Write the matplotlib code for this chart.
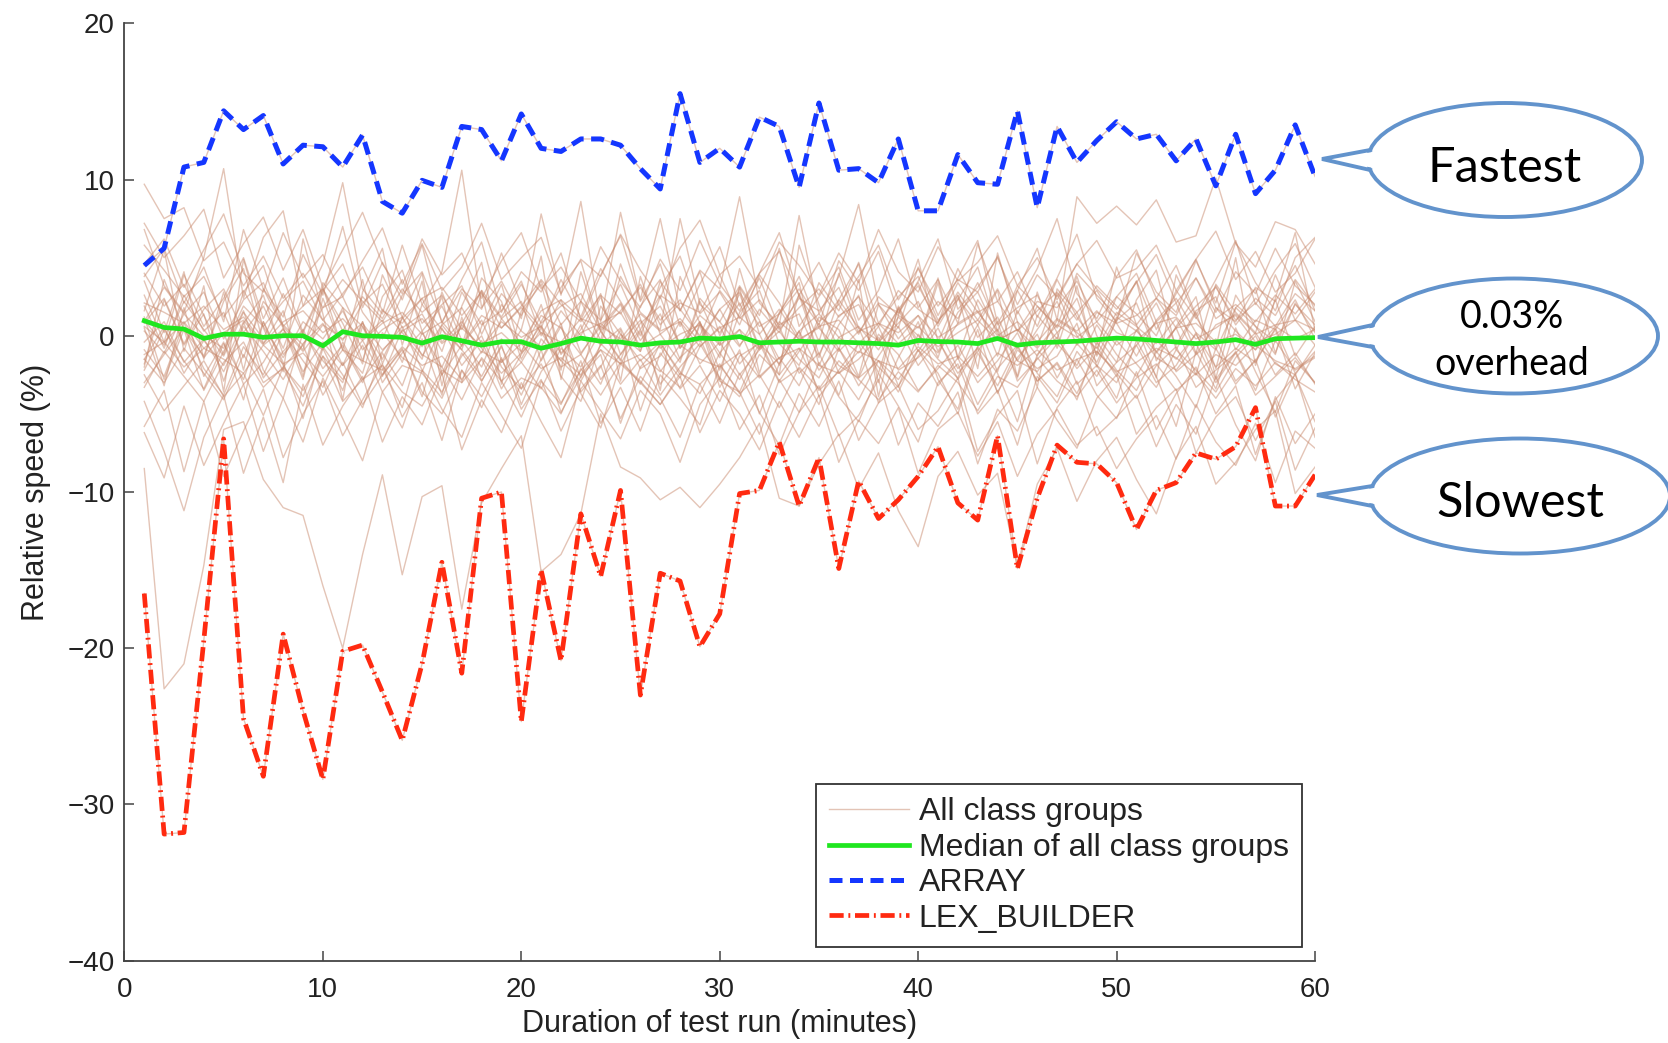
"""
Relative speed of class groups over a 60 minute test run, with callouts.
"""
import matplotlib
matplotlib.use('Agg')
import matplotlib.pyplot as plt
from matplotlib.patches import Ellipse, Polygon
from matplotlib.lines import Line2D

minutes = list(range(1, 61))

# Median of all class groups (green)
median_all = [
    0.96, 0.53, 0.43, -0.17, 0.1, 0.1, -0.1, 0.0, 0.0, -0.64,
    0.26, 0.0, -0.04, -0.1, -0.47, -0.06, -0.32, -0.6, -0.38, -0.38,
    -0.8, -0.5, -0.15, -0.35, -0.4, -0.6, -0.45, -0.4, -0.15, -0.2,
    -0.05, -0.45, -0.4, -0.35, -0.4, -0.4, -0.45, -0.5, -0.6, -0.3,
    -0.37, -0.4, -0.5, -0.17, -0.6, -0.45, -0.4, -0.35, -0.25, -0.15,
    -0.2, -0.3, -0.4, -0.5, -0.4, -0.25, -0.55, -0.19, -0.15, -0.12]

# ARRAY (fastest)
array_speed = [
    4.5, 5.6, 10.8, 11.1, 14.4, 13.2, 14.1, 11.0, 12.2, 12.1,
    10.8, 12.85, 8.6, 7.85, 9.95, 9.5, 13.4, 13.2, 11.2, 14.2,
    12.0, 11.8, 12.6, 12.6, 12.2, 10.7, 9.4, 15.5, 11.1, 12.0,
    10.8, 14.0, 13.4, 9.5, 14.9, 10.6, 10.7, 9.8, 12.6, 8.0,
    8.0, 11.6, 9.8, 9.7, 14.4, 8.2, 13.4, 11.1, 12.5, 13.7,
    12.6, 12.9, 11.2, 12.6, 9.6, 12.9, 9.1, 10.6, 13.5, 10.2]

# LEX_BUILDER (slowest)
lex_builder_speed = [
    -16.5, -31.9, -31.8, -19.5, -6.6, -24.5, -28.2, -19.1, -24.0, -28.4,
    -20.2, -19.8, -22.8, -25.9, -21.0, -14.5, -21.6, -10.4, -10.0, -24.7,
    -15.0, -20.8, -11.4, -15.4, -9.9, -23.0, -15.2, -15.7, -19.9, -17.8,
    -10.1, -9.9, -6.8, -10.9, -7.8, -14.9, -9.3, -11.7, -10.5, -9.0,
    -7.1, -10.7, -11.8, -6.4, -14.9, -10.4, -7.0, -8.1, -8.2, -9.4,
    -12.4, -9.9, -9.4, -7.5, -7.9, -7.1, -4.6, -10.9, -10.9, -8.9]

# Individual class groups (tan)
group_01 = [
    2.1, 1.5, 0.8, 1.9, 0.4, 1.2, -0.5, 0.9, 1.6, 0.2,
    1.1, -0.3, 0.8, 1.5, 0.1, 0.9, -0.6, 1.3, 0.5, 1.8,
    0.2, -0.4, 1.1, 0.6, -0.2, 1.4, 0.3, 0.9, -0.7, 0.5,
    1.2, 0.1, 1.7, -0.3, 0.6, 1.0, -0.5, 0.8, 0.2, 1.3,
    -0.1, 0.7, 1.5, 0.0, 0.9, -0.4, 1.1, 0.3, 1.6, 0.2,
    -0.3, 0.8, 1.2, -0.2, 0.5, 1.4, 0.1, 0.7, 1.0, 0.4]
group_02 = [
    -1.2, -0.4, -2.0, -0.8, -1.5, -2.4, -0.6, -1.8, -1.1, -2.6,
    -0.9, -1.6, -2.2, -0.7, -1.9, -1.3, -2.8, -1.0, -1.7, -0.5,
    -2.1, -1.4, -2.5, -0.9, -1.8, -1.2, -2.3, -0.6, -1.5, -2.0,
    -1.1, -2.7, -1.4, -0.8, -1.9, -2.4, -1.0, -1.6, -2.1, -0.7,
    -1.8, -1.3, -2.6, -1.1, -1.9, -0.9, -2.2, -1.5, -1.0, -2.3,
    -1.7, -0.8, -1.4, -2.5, -1.2, -1.9, -0.6, -1.6, -2.1, -1.3]
group_03 = [
    3.5, 0.2, 4.1, -1.5, 2.8, -2.2, 3.0, 0.5, -2.8, 2.4,
    -0.9, 3.6, -1.8, 1.2, 4.0, -2.5, 0.8, 2.9, -3.1, 1.6,
    3.3, -1.2, 0.4, 2.7, -2.9, 3.8, 0.1, -1.7, 2.2, -0.6,
    3.1, -2.4, 1.5, 3.4, -1.9, 0.7, 2.6, -3.0, 1.9, -0.4,
    3.7, -1.4, 2.3, 0.3, -2.6, 2.8, -0.8, 3.2, -2.0, 1.1,
    3.5, -1.6, 0.6, 2.5, -2.7, 1.8, 3.0, -1.1, 2.1, 0.2]
group_04 = [
    5.8, 4.2, 2.5, 3.8, 1.2, 2.9, 0.6, 2.2, 3.5, 1.0,
    2.7, 4.4, 1.6, 0.8, 2.4, 3.1, 1.3, 2.8, 0.5, 1.9,
    3.6, 2.0, 0.9, 2.6, 1.4, 3.3, 0.7, 2.1, 1.5, 3.9,
    1.1, 2.3, 0.4, 1.8, 3.0, 1.2, 2.5, 0.6, 2.9, 1.7,
    0.8, 3.4, 1.5, 2.2, 0.3, 1.6, 2.8, 1.0, 3.2, 1.9,
    0.7, 2.4, 1.3, 3.7, 1.1, 2.0, 0.9, 2.6, 1.4, 3.0]
group_05 = [
    -2.5, -4.8, -3.2, -1.6, -3.9, -2.4, -5.1, -2.0, -3.5, -1.3,
    -4.2, -2.8, -1.9, -3.6, -4.5, -2.2, -3.0, -1.5, -4.0, -2.7,
    -3.3, -5.0, -2.1, -3.8, -1.7, -2.9, -4.4, -2.4, -3.1, -1.8,
    -3.7, -2.5, -4.6, -2.0, -3.4, -1.6, -2.8, -4.1, -2.3, -3.6,
    -1.9, -3.0, -4.8, -2.6, -3.3, -1.4, -2.9, -3.9, -2.2, -4.3,
    -2.7, -1.8, -3.5, -2.4, -4.0, -2.1, -3.2, -1.7, -2.8, -3.6]
group_06 = [
    9.7, 7.5, 8.2, 4.8, 6.0, 3.2, 5.1, 2.4, 4.0, 1.8,
    3.6, 2.2, 0.9, 3.0, 1.5, 2.6, 0.4, 2.9, 1.2, 3.3,
    0.8, 1.9, 2.7, 0.3, 1.6, 3.1, 1.0, 2.3, -0.2, 1.7,
    2.8, 0.6, 1.4, 3.0, 0.9, 2.0, 0.1, 2.5, 1.3, 0.5,
    2.2, 1.1, 3.4, 0.7, 1.8, 2.6, 0.2, 1.5, 2.9, 0.8,
    1.3, 2.4, 0.5, 1.9, 3.1, 1.0, 2.1, 0.6, 2.7, 1.6]
group_07 = [
    -8.5, -22.6, -21.0, -14.7, -6.0, -5.5, -9.2, -11.0, -11.5, -16.0,
    -20.0, -14.0, -8.9, -15.3, -10.3, -9.6, -17.5, -10.7, -8.5, -6.4,
    -15.1, -14.0, -11.4, -5.0, -8.4, -9.1, -10.5, -9.7, -11.0, -9.5,
    -7.8, -5.6, -10.4, -10.9, -8.2, -6.3, -9.8, -7.5, -11.2, -13.5,
    -9.0, -7.4, -10.2, -8.8, -14.8, -9.5, -7.2, -10.6, -8.0, -6.5,
    -9.2, -11.4, -7.8, -5.8, -9.5, -8.1, -6.0, -4.8, -10.1, -8.4]
group_08 = [
    -4.2, -7.4, -11.2, -6.5, -3.8, -8.8, -5.2, -9.4, -3.1, -7.0,
    -4.5, -2.6, -6.8, -3.9, -5.7, -2.4, -7.3, -4.1, -6.2, -3.0,
    -5.5, -7.8, -2.9, -4.8, -6.6, -3.5, -5.0, -8.1, -4.4, -2.7,
    -6.0, -3.8, -7.6, -4.9, -3.2, -6.4, -5.1, -2.8, -7.0, -4.3,
    -5.8, -3.6, -8.2, -4.7, -6.1, -3.3, -5.4, -7.2, -4.0, -2.5,
    -6.3, -4.6, -3.4, -7.5, -5.2, -3.9, -6.7, -4.2, -8.6, -5.9]
group_09 = [
    6.8, 3.2, 1.5, 5.0, 10.7, 2.4, 6.3, 8.0, 1.9, 4.6,
    9.8, 3.0, 1.4, 5.8, 2.0, 4.1, 10.6, 1.8, 3.5, 1.1,
    7.8, 2.6, 8.6, 0.9, 7.9, 2.3, 7.5, 1.6, 4.2, 3.0,
    8.9, 2.1, 0.7, 7.7, 1.4, 3.8, 8.4, 2.0, 0.5, 4.4,
    1.3, 3.7, 6.1, 0.8, 2.9, 5.6, 1.0, 8.9, 7.2, 8.3,
    7.1, 8.7, 6.0, 6.4, 10.1, 5.9, 4.4, 7.3, 6.8, 4.6]
group_10 = [
    0.5, -3.2, 1.8, -2.6, -0.4, -4.1, 0.9, -1.7, -5.3, -0.8,
    -3.5, 0.6, -2.1, -4.6, -0.2, -3.8, 1.2, -2.9, -0.6, -4.4,
    -1.5, 0.8, -3.6, -2.0, 0.4, -4.8, -1.1, -2.7, 0.7, -3.3,
    -0.9, -5.0, -1.8, 0.3, -3.9, -2.2, -0.5, -4.3, -1.4, 0.9,
    -2.8, -4.7, -0.7, -2.4, -5.5, -1.2, 0.2, -3.1, -1.9, -4.0,
    -0.3, -2.6, -5.8, -1.0, -3.4, 0.5, -2.3, -4.9, -1.6, -3.0]
group_11 = [
    4.6, 6.2, 3.1, 5.5, 7.8, 4.0, 2.8, 6.6, 3.7, 5.2,
    2.5, 4.8, 6.9, 3.3, 5.9, 2.9, 4.4, 7.2, 3.6, 5.0,
    6.3, 2.7, 4.9, 3.8, 6.5, 4.2, 2.4, 5.6, 7.4, 3.9,
    5.1, 3.0, 6.0, 4.5, 2.6, 5.3, 3.4, 6.8, 4.1, 2.8,
    5.7, 3.5, 4.7, 6.4, 3.2, 5.0, 2.3, 4.6, 6.1, 3.7,
    4.3, 5.8, 2.9, 4.9, 6.7, 3.6, 5.4, 2.8, 4.0, 6.2]
group_12 = [
    -1.8, 2.3, -0.6, 1.4, -2.9, 0.8, 2.6, -1.2, 0.3, 3.1,
    -0.9, -2.4, 1.7, 0.2, -1.5, 2.8, -0.3, -2.0, 1.1, 2.2,
    -1.6, 0.6, -2.7, 1.9, 0.1, -1.0, 2.5, -0.8, 0.9, -2.2,
    1.5, 2.9, -0.5, -1.9, 1.2, 0.4, -2.6, 2.0, -0.2, 1.3,
    -1.4, 2.4, 0.7, -2.3, 1.6, -0.7, 2.7, 0.0, -1.7, 1.0,
    2.1, -1.1, 0.5, -2.5, 1.8, 0.3, -0.9, 2.3, -1.3, 0.6]
group_13 = [
    1.2, -2.8, 0.4, -3.5, -1.0, 1.6, -2.2, -4.0, 0.2, -1.6,
    -3.0, 0.9, -2.5, -0.8, -3.9, 0.5, -1.9, -0.3, -3.4, -1.2,
    0.7, -2.6, -4.2, -0.5, -1.8, 0.3, -3.1, -1.4, -0.2, -2.9,
    -3.6, -0.7, 0.6, -2.4, -1.1, -3.8, -0.4, -2.0, -3.3, 0.1,
    -1.5, -2.7, 0.4, -3.7, -0.9, -2.1, -1.3, 0.8, -3.2, -1.7,
    -0.6, -3.0, -1.9, 0.2, -2.8, -1.0, -3.5, -0.3, -2.2, -1.4]
group_14 = [
    -5.8, -3.5, -8.7, -4.2, -9.0, -6.1, -3.4, -7.8, -5.0, -2.9,
    -6.4, -4.1, -1.8, -5.2, -3.0, -6.7, -2.2, -4.6, -1.5, -3.8,
    -0.9, -4.9, -2.6, -1.2, -5.6, -2.0, -0.6, -3.4, -1.9, -4.2,
    -1.3, -0.5, -3.0, -2.1, -4.4, -0.8, -2.7, -1.6, -3.6, -0.9,
    -2.4, -5.0, -1.1, -3.2, -0.7, -2.9, -1.8, -4.1, -0.4, -2.2,
    -3.5, -1.0, -2.6, -4.6, -0.8, -3.1, -1.5, -5.2, -2.4, -6.5]
group_15 = [
    3.8, 5.6, 2.1, 4.4, 0.9, 6.8, 3.0, 1.2, 5.2, 2.6,
    7.0, 1.8, 4.7, 2.3, 5.8, 0.8, 3.6, 6.0, 1.5, 4.1,
    2.8, 5.3, 1.0, 3.9, 6.4, 2.2, 4.6, 0.6, 3.3, 5.7,
    1.9, 4.0, 6.6, 2.5, 0.7, 4.8, 2.9, 5.4, 1.4, 3.5,
    6.2, 1.7, 3.1, 5.0, 2.0, 4.3, 7.5, 2.7, 1.1, 3.8,
    5.5, 2.4, 4.5, 1.3, 3.6, 6.1, 2.0, 4.2, 5.9, 3.1]
group_16 = [
    0.3, -1.1, 1.4, 0.0, -0.8, 1.9, 0.6, -1.4, 0.9, -0.2,
    1.6, -0.9, 0.4, 1.2, -1.3, 0.7, 1.8, -0.5, 0.2, -1.0,
    1.3, 0.5, -1.2, 0.8, 1.5, -0.7, 0.1, 1.1, -0.4, 1.7,
    -0.6, 0.9, -1.5, 0.3, 1.4, -0.1, 0.6, -0.9, 1.2, 0.0,
    -1.1, 0.8, 1.6, -0.3, 0.4, -1.3, 1.0, 0.2, -0.8, 1.5,
    0.6, -0.5, 1.1, -1.2, 0.7, 1.3, -0.4, 0.1, 1.0, -0.6]
group_17 = [
    -2.2, 0.4, -1.6, -3.4, -0.5, -2.8, 0.9, -1.9, -3.9, -0.7,
    -2.5, -4.6, -1.1, -3.2, 0.2, -2.0, -4.1, -1.4, -2.9, -5.2,
    -2.3, -0.6, -3.7, -5.9, -1.8, -3.0, -4.4, -2.6, -6.2, -3.5,
    -5.0, -7.3, -4.2, -6.5, -3.8, -8.1, -5.4, -6.9, -4.6, -8.8,
    -6.0, -4.9, -7.7, -5.5, -9.0, -6.3, -4.7, -7.0, -5.8, -8.5,
    -6.6, -5.1, -7.9, -4.4, -6.8, -8.3, -5.6, -9.4, -6.1, -7.2]
group_18 = [
    1.6, 5.5, -1.0, 3.2, -3.6, 4.9, 0.5, -2.3, 6.2, 1.4,
    -4.1, 2.8, 5.6, -0.6, 3.5, -3.2, 1.9, 4.7, -1.7, 0.4,
    5.1, -2.8, 2.2, -0.3, 4.6, 1.1, -3.5, 3.8, 0.8, -1.4,
    4.3, 0.1, -2.5, 5.8, 2.0, -0.9, 3.6, -3.9, 1.3, 4.9,
    -0.4, 2.6, -2.1, 5.3, 0.9, -3.3, 3.0, 1.5, -1.2, 4.4,
    0.7, -2.7, 3.9, 1.2, -0.8, 5.0, -1.9, 2.4, 6.6, 0.3]
group_19 = [
    -6.2, -9.1, -4.5, -8.3, -5.6, -3.1, -7.4, -4.0, -6.8, -2.7,
    -5.3, -8.0, -3.6, -5.9, -2.2, -4.7, -6.5, -3.0, -5.1, -7.2,
    -2.9, -4.4, -1.6, -5.6, -3.3, -6.1, -2.5, -4.0, -5.7, -1.9,
    -3.6, -6.3, -2.8, -4.9, -1.7, -3.9, -5.5, -2.4, -4.5, -6.8,
    -3.0, -1.8, -5.0, -3.5, -7.0, -2.6, -4.3, -1.5, -3.8, -5.3,
    -2.3, -6.0, -3.7, -2.0, -5.0, -3.2, -7.6, -4.1, -2.5, -5.5]
group_20 = [
    2.6, -0.4, 3.9, 1.3, -1.2, 2.8, 4.5, 0.6, -0.9, 3.4,
    1.8, -1.6, 2.5, 4.2, 0.3, 1.9, -0.7, 3.7, 2.2, -1.5,
    0.9, 3.1, 4.8, 0.4, 2.0, -1.0, 3.5, 1.6, 4.1, 0.0,
    2.7, -0.8, 1.4, 3.8, 0.5, 2.3, 4.6, -0.5, 1.7, 3.2,
    0.8, 4.3, 1.9, -1.3, 2.9, 0.6, 3.6, 1.2, -0.6, 2.5,
    4.0, 0.9, 2.1, -1.1, 3.3, 1.5, 0.2, 3.9, 1.0, 2.8]
group_21 = [
    7.2, 5.0, 6.4, 8.1, 3.7, 5.9, 7.6, 4.2, 6.8, 3.1,
    5.5, 7.9, 4.6, 2.7, 6.2, 3.9, 5.3, 2.4, 4.8, 6.6,
    3.0, 4.4, 2.2, 5.7, 3.5, 1.8, 4.9, 2.9, 6.1, 3.3,
    1.6, 4.0, 5.4, 2.6, 4.7, 2.0, 3.8, 5.8, 2.3, 4.3,
    1.9, 3.6, 2.8, 5.1, 1.4, 3.9, 2.5, 4.6, 3.0, 1.7,
    3.4, 5.2, 2.1, 3.7, 1.5, 4.1, 2.7, 5.6, 3.2, 2.0]
group_22 = [
    -0.4, 0.9, -1.7, -0.2, -2.3, 0.6, -1.0, -2.8, -0.5, 0.8,
    -1.9, -0.3, -2.6, 0.4, -1.2, -2.0, 0.7, -0.8, -2.4, -1.1,
    0.2, -1.6, -2.9, -0.6, 0.5, -2.1, -1.3, 0.9, -1.8, -0.4,
    -2.5, -0.9, 0.3, -1.5, -2.7, -0.1, -1.1, 0.6, -2.2, -1.4,
    -0.2, -2.8, -0.7, 0.4, -1.6, -2.3, -0.5, -1.9, 0.7, -1.2,
    -2.6, -0.3, -1.5, 0.1, -2.0, -0.8, -1.7, 0.5, -2.4, -1.0]
group_23 = [
    0.8, 2.4, -0.5, 1.7, 3.0, 0.2, 1.9, -0.8, 2.6, 1.0,
    -0.3, 2.1, 3.3, 0.5, 1.4, -1.0, 2.8, 0.7, 1.6, 3.5,
    0.0, 2.3, 1.1, -0.6, 3.8, 1.5, 0.4, 7.5, 2.0, 0.9,
    3.2, 1.3, 5.6, 0.6, 2.5, 4.4, 1.0, 2.9, 6.2, 1.8,
    3.6, 0.8, 5.9, 2.2, 4.1, 1.2, 3.7, 6.5, 2.4, 0.9,
    5.3, 2.8, 1.5, 4.8, 2.1, 6.0, 3.4, 1.6, 5.0, 6.3]
group_24 = [
    -1.5, -3.0, -0.8, -2.4, -4.1, -1.2, -3.3, -2.0, -0.6, -3.8,
    -1.7, -4.4, -2.5, -0.9, -3.6, -5.0, -2.2, -3.9, -1.4, -4.7,
    -2.8, -6.1, -3.4, -1.9, -5.3, -2.6, -4.0, -6.5, -3.1, -5.6,
    -2.4, -4.9, -7.0, -3.7, -5.8, -2.9, -6.7, -4.3, -3.2, -6.0,
    -4.8, -2.7, -7.4, -5.1, -3.5, -8.2, -4.6, -2.9, -6.4, -5.2,
    -3.8, -7.1, -4.4, -6.3, -2.6, -5.7, -8.0, -3.9, -6.9, -5.0]
group_25 = [
    1.0, -0.6, 2.2, 0.4, -1.3, 1.5, -0.2, 2.7, 0.1, -0.9,
    1.8, 0.6, -1.5, 1.1, 2.4, -0.4, 0.9, -1.1, 2.0, 0.3,
    -0.7, 1.6, 0.0, 2.5, -1.2, 0.8, 1.9, -0.5, 1.3, 0.2,
    2.1, -0.8, 0.7, 1.4, -1.4, 2.3, 0.5, -0.3, 1.7, -1.0,
    0.9, 2.6, -0.1, 1.2, -1.6, 0.4, 2.2, -0.6, 1.5, 0.8,
    -1.3, 1.0, 2.4, 0.2, -0.9, 1.8, 0.6, -0.4, 2.0, 0.7]
group_26 = [
    -3.0, -1.2, 0.5, -2.1, -3.8, -0.7, -2.5, 0.2, -1.6, -3.3,
    -0.4, -2.8, -1.0, 0.6, -2.2, -3.6, -1.3, 0.0, -2.9, -1.7,
    -3.4, -0.8, -2.0, 0.3, -1.5, -3.1, -0.5, -2.3, -3.7, -1.1,
    0.4, -2.6, -1.4, -3.2, -0.2, -1.9, -2.7, 0.1, -1.2, -3.5,
    -2.1, -0.6, -3.0, -1.6, 0.2, -2.4, -3.9, -1.0, -2.6, -0.3,
    -1.8, -3.3, -0.9, -2.2, -3.6, -1.4, 0.0, -2.5, -1.1, -3.1]
group_27 = [
    4.0, 1.9, 3.3, 0.6, 2.4, 5.0, 1.1, 3.7, 0.2, 2.9,
    4.6, 1.5, -0.2, 2.6, 4.1, 0.9, 3.0, 1.7, 5.3, 2.0,
    0.5, 3.6, 1.2, 4.3, 2.2, 0.0, 3.1, 5.1, 1.4, 2.8,
    0.7, 3.9, 2.1, -0.1, 3.4, 1.6, 4.7, 0.8, 2.5, 3.8,
    1.0, 2.3, 4.4, 0.3, 3.2, 1.9, 0.6, 4.0, 2.6, 1.3,
    3.5, 0.4, 2.7, 4.9, 1.8, 0.9, 3.1, 2.2, 4.5, 1.6]
group_28 = [
    -0.9, -2.6, 0.8, -1.4, 0.2, -3.1, -1.7, 0.5, -2.3, -0.4,
    -1.9, 0.9, -3.0, -1.1, 0.3, -2.5, -0.6, 1.0, -2.0, -3.4,
    -0.2, -1.6, 0.7, -2.8, -1.2, 0.4, -2.2, -3.3, -0.7, 0.6,
    -1.8, -0.3, -2.9, -1.0, 0.8, -2.4, -1.5, -0.1, -3.2, -1.3,
    0.5, -2.1, -0.8, -3.6, -1.4, 0.1, -2.7, -0.5, -1.9, -3.0,
    -0.6, 0.9, -2.3, -1.2, -0.2, -2.9, -1.6, 0.4, -3.4, -1.1]
group_29 = [
    1.9, -0.8, 2.6, 0.3, 1.5, -1.4, 2.2, 0.7, -0.6, 1.8,
    2.5, -0.2, 1.0, -1.7, 2.0, 0.4, -0.9, 2.7, 1.1, -0.5,
    1.6, 2.3, -1.1, 0.6, 2.1, -0.3, 1.4, -1.5, 2.4, 0.9,
    -0.7, 1.7, 0.2, 2.6, -1.2, 1.3, 2.0, -0.4, 0.8, 2.2,
    -1.0, 1.5, 2.8, 0.1, -0.8, 1.9, 0.5, 2.4, -1.3, 1.2,
    0.3, 2.1, -0.6, 1.6, 2.5, -0.9, 1.0, 0.4, 2.3, -0.2]
group_30 = [
    -1.5, 0.6, -2.4, -0.3, -1.9, 0.9, -2.7, -1.0, 0.4, -2.1,
    -0.6, -3.0, 0.2, -1.4, -2.3, 0.7, -0.9, -2.6, -0.2, -1.7,
    0.5, -2.0, -1.2, -3.1, 0.1, -1.6, -0.4, -2.5, 0.8, -1.1,
    -2.8, -0.5, -1.8, 0.3, -2.2, -0.8, -3.2, -1.3, 0.6, -1.9,
    -0.3, -2.4, -1.0, 0.9, -2.9, -1.5, -0.1, -2.1, -0.7, -2.6,
    0.4, -1.4, -2.2, -0.5, -3.0, -1.1, 0.2, -1.8, -2.5, -0.6]
group_31 = [
    0.9, 3.1, 1.4, 2.8, -0.2, 2.3, 3.4, 0.6, 1.9, 3.0,
    0.3, 2.5, 1.1, 3.6, 0.8, 2.0, 3.2, 0.1, 2.7, 1.3,
    3.5, 0.7, 2.2, 1.0, 3.3, 0.4, 2.6, 1.7, 0.0, 2.9,
    1.2, 3.7, 0.5, 2.4, 1.6, 3.1, 0.2, 2.1, 1.5, 3.4,
    0.6, 2.8, 1.0, 3.0, 0.3, 2.2, 1.8, 3.5, 0.9, 2.5,
    1.4, 0.0, 2.9, 1.1, 3.2, 0.7, 2.4, 1.3, 3.6, 1.9]
group_32 = [
    -3.3, -1.0, -2.6, -4.2, -1.7, -0.4, -3.0, -2.1, -4.5, -1.3,
    -2.8, -0.6, -3.6, -1.9, -2.4, -4.0, -1.1, -2.9, -0.7, -3.4,
    -1.8, -4.3, -2.2, -0.9, -3.1, -1.5, -3.8, -2.0, -0.5, -2.7,
    -3.9, -1.2, -2.5, -0.8, -3.5, -2.3, -4.1, -1.6, -2.8, -0.9,
    -3.2, -1.4, -4.4, -2.1, -0.6, -2.9, -1.7, -3.7, -1.0, -2.4,
    -4.0, -1.9, -0.7, -3.3, -2.2, -1.1, -3.8, -2.6, -1.4, -3.0]
group_33 = [
    0.6, -0.4, 0.9, -0.8, 0.2, 1.0, -0.6, 0.4, -1.0, 0.7,
    -0.2, 0.8, -0.9, 0.3, 1.1, -0.5, 0.5, -0.7, 0.9, -0.1,
    0.6, -1.1, 0.2, 0.8, -0.4, 1.0, -0.8, 0.1, 0.7, -0.6,
    0.4, -0.9, 0.9, -0.2, 0.5, -1.0, 0.3, 0.8, -0.5, 0.6,
    -0.7, 0.2, 1.0, -0.3, 0.4, -0.8, 0.7, -0.1, 0.9, -0.6,
    0.3, -1.0, 0.5, 0.8, -0.4, 0.1, -0.9, 0.6, -0.2, 0.4]
group_34 = [
    -2.0, 3.6, 0.4, -1.3, 2.2, 4.3, -0.5, 1.6, -2.6, 3.0,
    0.8, -1.8, 3.9, 1.2, -0.7, 2.5, -3.0, 0.6, 3.3, -1.1,
    2.0, -2.2, 4.1, 0.3, -1.6, 1.9, 3.6, -0.8, 0.9, -2.8,
    3.1, 1.0, -1.9, 2.7, -0.4, 4.0, 0.5, -2.4, 1.8, -0.6,
    3.4, -1.5, 0.7, 2.9, -2.7, 1.3, -0.2, 3.8, 0.0, -1.7,
    2.3, 4.2, -0.9, 1.5, -2.1, 2.6, 0.6, -1.2, 3.5, 0.9]

class_groups = [group_01, group_02, group_03, group_04, group_05, group_06,
                group_07, group_08, group_09, group_10, group_11, group_12,
                group_13, group_14, group_15, group_16, group_17, group_18,
                group_19, group_20, group_21, group_22, group_23, group_24,
                group_25, group_26, group_27, group_28, group_29, group_30,
                group_31, group_32, group_33, group_34,
                array_speed, lex_builder_speed]

FIG_W, FIG_H = 1668, 1043
TAN = '#c98a6e'
CALLOUT_BLUE = '#6293cc'


def px(x, y):
    """Image pixel (from top-left) -> figure fraction."""
    return x / FIG_W, 1 - y / FIG_H


def draw_callout(fig, cx, cy, w, h, tip, half_gap, lines, sizes, offsets):
    """
    Draws a speech-bubble ellipse with a wedge pointing left.
    """
    a, b = w / 2.0, h / 2.0
    ell = Ellipse(px(cx, cy), w / FIG_W, h / FIG_H, transform=fig.transFigure,
                  facecolor='white', edgecolor=CALLOUT_BLUE, lw=2.8, zorder=5)
    fig.add_artist(ell)
    xb = cx - a * (1 - (half_gap / b) ** 2) ** 0.5
    cover = Polygon([px(xb + 10, cy - half_gap + 1), px(*tip), px(xb + 10, cy + half_gap - 1)],
                    closed=True, transform=fig.transFigure,
                    facecolor='white', edgecolor='none', zorder=6)
    fig.add_artist(cover)
    p1, p2, p3 = px(xb, cy - half_gap), px(*tip), px(xb, cy + half_gap)
    edge = Line2D([p1[0], p2[0], p3[0]], [p1[1], p2[1], p3[1]],
                  transform=fig.transFigure, color=CALLOUT_BLUE, lw=2.8,
                  solid_joinstyle='miter', zorder=7)
    fig.add_artist(edge)
    for text, size, (tx, ty) in zip(lines, sizes, offsets):
        fig.text(*px(tx, ty), text, ha='center', va='center', fontsize=size,
                 family=['Lato', 'DejaVu Sans'], color='black', zorder=8)


def plot_chart():
    plt.rcParams['font.family'] = ['Liberation Sans', 'DejaVu Sans']
    fig = plt.figure(figsize=(FIG_W / 100, FIG_H / 100), dpi=100)
    ax = fig.add_axes([0.0746, 0.0790, 0.7138, 0.8986])

    for i, group in enumerate(class_groups):
        ax.plot(minutes, group, color=TAN, lw=1.0, alpha=0.5, zorder=2,
                label='All class groups' if i == 0 else None)

    ax.plot(minutes, median_all, color='#1fe61f', lw=3.4, zorder=3,
            label='Median of all class groups')
    ax.plot(minutes, array_speed, color='#1436ff', lw=3.6,
            linestyle=(0, (2.6, 1.5)), zorder=4, label='ARRAY')
    ax.plot(minutes, lex_builder_speed, color='#ff2a10', lw=3.4,
            linestyle=(0, (3.0, 1.0, 0.4, 1.0)), zorder=4, label='LEX_BUILDER')

    ax.set_xlim(0, 60)
    ax.set_ylim(-40, 20)
    ax.set_xticks(range(0, 61, 10))
    ax.set_yticks(range(-40, 21, 10))
    for side in ['top', 'right']:
        ax.spines[side].set_visible(False)
    for side in ['left', 'bottom']:
        ax.spines[side].set_color('#444444')
        ax.spines[side].set_linewidth(1.3)
    ax.tick_params(direction='in', length=7, width=1.1, color='#444444',
                   labelsize=20, labelcolor='#222222')
    ax.tick_params(axis='x', pad=12)
    ax.tick_params(axis='y', pad=7)

    ax.set_xlabel('Duration of test run (minutes)', fontsize=22, color='#222222')
    ax.set_ylabel('Relative speed (%)', fontsize=22, color='#222222')
    ax.xaxis.set_label_coords(0.5, -0.052)
    ax.yaxis.set_label_coords(-0.062, 0.5)

    leg = ax.legend(loc='lower right', bbox_to_anchor=(0.989, 0.0145),
                    borderaxespad=0, fontsize=23, fancybox=False,
                    edgecolor='black', handlelength=2.5, labelspacing=0.17,
                    handletextpad=0.3, borderpad=0.42)
    leg.get_frame().set_linewidth(1.3)
    for t in leg.get_texts():
        t.set_color('#222222')

    draw_callout(fig, 1505, 160, 274, 114, (1322, 159), 10,
                 ['Fastest'], [35], [(1505, 168)])
    draw_callout(fig, 1514, 336, 288, 115, (1318, 337), 11,
                 ['0.03%', 'overhead'], [27, 27], [(1512, 317), (1512, 364)])
    draw_callout(fig, 1520, 496, 300, 115, (1317, 495), 10,
                 ['Slowest'], [35], [(1520, 503)])

    fig.savefig('out.png', dpi=100)


def main():
    plot_chart()


main()
